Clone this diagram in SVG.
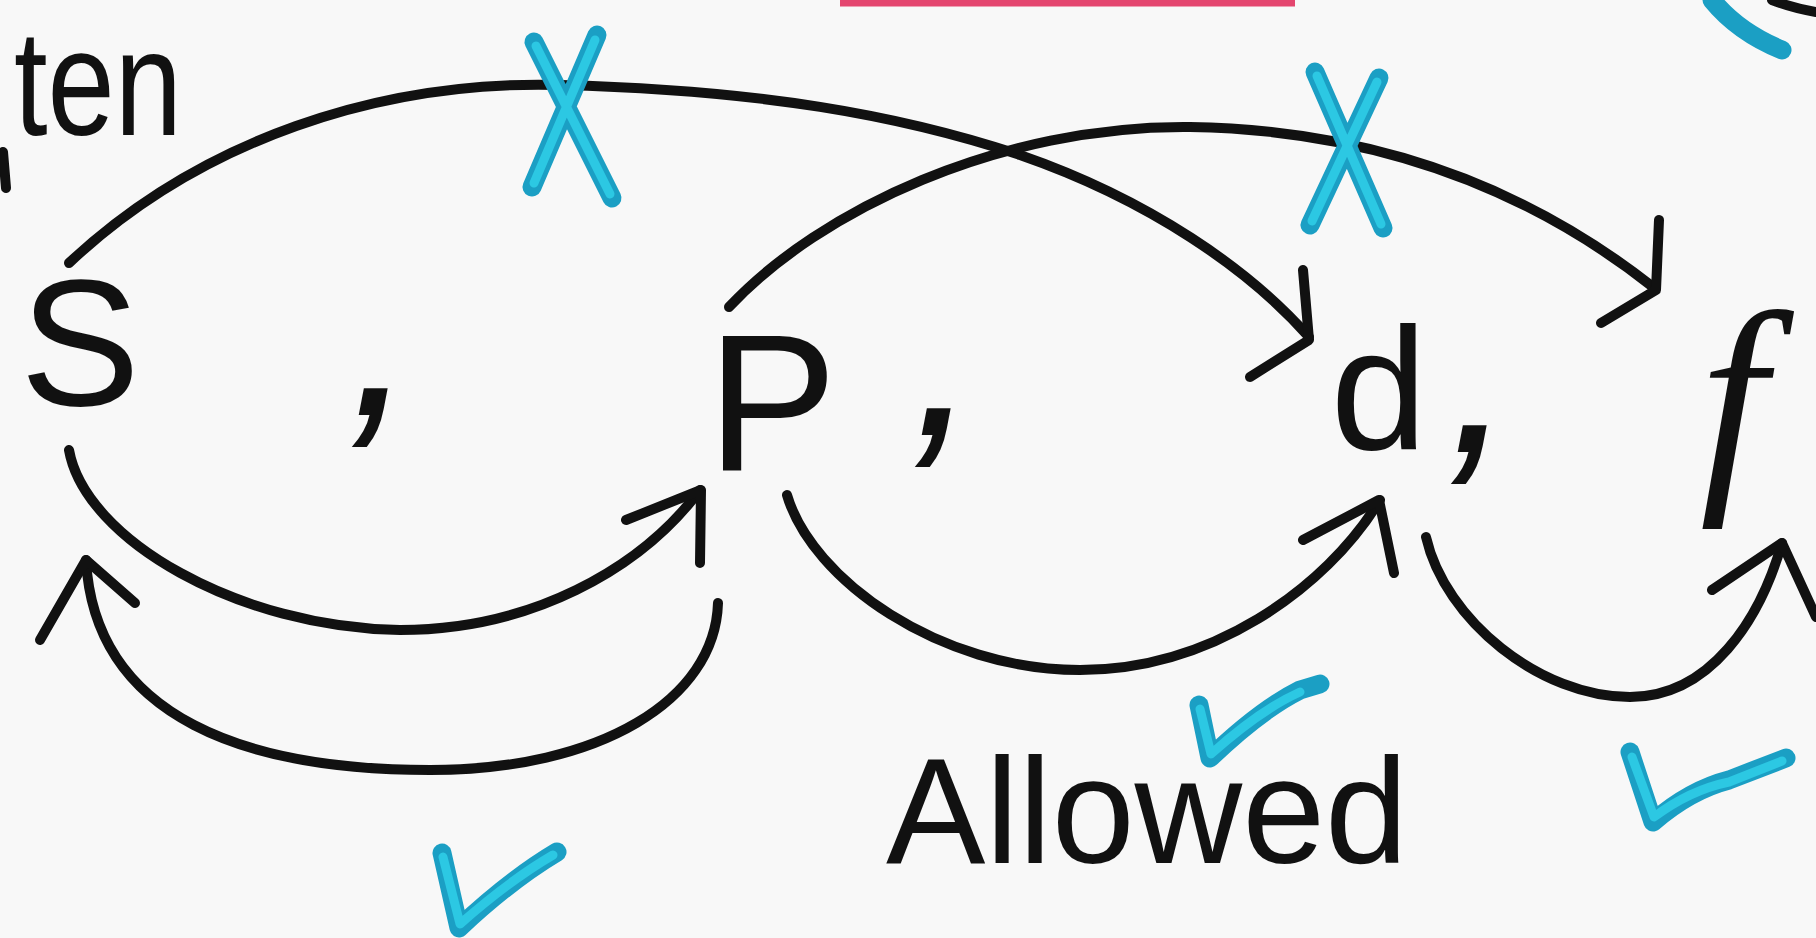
<svg xmlns="http://www.w3.org/2000/svg" width="1816" height="938" viewBox="0 0 1816 938">
<style>
.bg{fill:#f8f8f8}
.lbl{font-family:"Liberation Sans",Arial,sans-serif;fill:#111}
.cm{font-family:"Liberation Sans",Arial,sans-serif;font-style:italic;font-size:250px;fill:#111;text-anchor:middle}
.arc{fill:none;stroke:#111;stroke-width:10;stroke-linecap:round;stroke-linejoin:round}
.mk{fill:none;stroke:#1b9fc4;stroke-width:19;stroke-linecap:round;stroke-linejoin:round}
.mk2{fill:none;stroke:#2cc8e3;stroke-width:9;stroke-linecap:round;stroke-linejoin:round}
</style>
<rect class="bg" x="0" y="0" width="1816" height="938"/>

<!-- page fragments -->
<g id="fragments">
  <path d="M840,3 L1295,3" stroke="#e4466f" stroke-width="7" fill="none"/>
  <path d="M1712,0 Q1738,32 1782,50" class="mk"/>
  <path d="M1772,0 Q1792,8 1816,12" class="arc"/>
  <path d="M3,152 L6,188" class="arc"/>
</g>

<g id="label-ten"><text class="lbl" x="14" y="135" font-size="150" textLength="168" lengthAdjust="spacingAndGlyphs">ten</text></g>

<g id="node-S"><text class="lbl" x="80" y="405" font-size="180" text-anchor="middle">S</text></g>
<g id="node-P"><text class="lbl" x="707" y="470" font-size="195">P</text></g>
<g id="node-d"><text class="lbl" x="1379" y="450" font-size="174" text-anchor="middle">d</text></g>
<g id="node-f"><text x="1733" y="478" font-size="240" text-anchor="middle" font-family="'Liberation Serif',serif" font-style="italic" fill="#111">f</text></g>

<g id="separators">
  <text class="cm" x="382" y="415">,</text>
  <text class="cm" x="945" y="435">,</text>
  <text class="cm" x="1481" y="452">,</text>
</g>

<g id="connectors">
  <!-- S -> d (forbidden) -->
  <path class="arc" d="M69,263 C200,140 380,80 560,85 C760,90 900,115 1020,155 C1150,200 1250,270 1309,337"/>
  <path class="arc" d="M1303,270 L1309,340 L1250,377"/>
  <!-- P -> f (forbidden) -->
  <path class="arc" d="M729,307 C820,210 1000,125 1190,127 C1380,130 1530,190 1653,287"/>
  <path class="arc" d="M1659,220 L1656,290 L1601,323"/>
  <!-- S -> P -->
  <path class="arc" d="M69,450 C85,540 240,628 400,630 C530,630 640,570 700,490"/>
  <path class="arc" d="M626,520 L701,490 L700,563"/>
  <!-- P -> S -->
  <path class="arc" d="M718,603 C715,700 600,770 430,770 C250,770 95,720 86,560"/>
  <path class="arc" d="M40,640 L86,560 L135,603"/>
  <!-- P -> d -->
  <path class="arc" d="M787,495 C812,580 940,670 1080,670 C1210,670 1325,590 1380,500"/>
  <path class="arc" d="M1303,540 L1379,500 L1394,573"/>
  <!-- d -> f -->
  <path class="arc" d="M1426,537 C1445,620 1540,697 1630,697 C1710,697 1760,620 1782,543"/>
  <path class="arc" d="M1712,590 L1782,543 L1816,617"/>
</g>

<g id="marks">
  <g id="x1">
    <path class="mk" d="M534,42 L612,198 M597,35 L532,187"/>
    <path class="mk2" d="M536,46 L610,194 M595,40 L534,183"/>
  </g>
  <g id="x2">
    <path class="mk" d="M1315,72 L1383,228 M1379,78 L1310,225"/>
    <path class="mk2" d="M1317,76 L1381,224 M1377,82 L1312,221"/>
  </g>
  <g id="check1">
    <path class="mk" d="M442,853 L459,928 Q510,880 557,852"/>
    <path class="mk2" d="M443,857 L460,924 Q510,880 553,855"/>
  </g>
  <g id="check2">
    <path class="mk" d="M1199,705 L1210,758 Q1260,710 1300,690 L1320,684"/>
    <path class="mk2" d="M1200,709 L1211,754 Q1260,710 1300,692"/>
  </g>
  <g id="check3">
    <path class="mk" d="M1630,752 L1653,822 Q1690,790 1729,780 L1786,758"/>
    <path class="mk2" d="M1632,757 L1654,817 Q1690,790 1729,782 L1782,761"/>
  </g>
</g>

<g id="label-allowed"><text class="lbl" x="886" y="863" font-size="150" textLength="522" lengthAdjust="spacingAndGlyphs">Allowed</text></g>
</svg>
